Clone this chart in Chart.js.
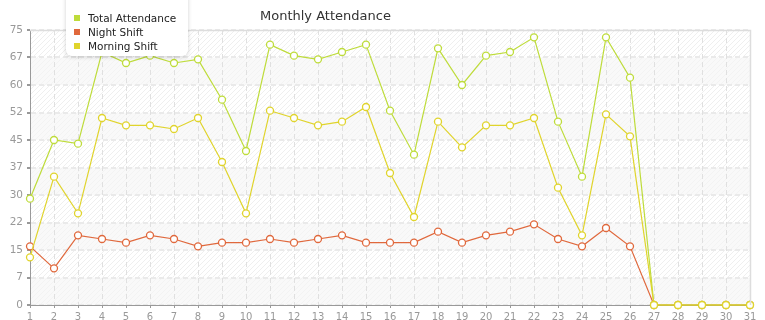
<!DOCTYPE html>
<html>
<head>
<meta charset="utf-8">
<script src="https://cdn.jsdelivr.net/npm/chart.js@4"></script>
<style>
  html, body { margin: 0; padding: 0; background: #fff; }
  .wrap { position: relative; width: 765px; height: 320px; }
  .title {
    position: absolute; left: 260px; top: 8px;
    font: 13px "DejaVu Sans", sans-serif; color: #333;
  }
  .legend {
    position: absolute; left: 66px; top: -4px; width: 122px; height: 60px;
    background: #fff; border-radius: 0 0 6px 6px;
    box-shadow: 0 1px 4px rgba(0,0,0,0.18);
    font: 10.5px "DejaVu Sans", sans-serif; color: #222;
  }
  .legend div { position: absolute; left: 8px; height: 14px; line-height: 14px; }
  .legend span { display: inline-block; width: 6px; height: 6px; margin-right: 8px; vertical-align: 1px; }
</style>
</head>
<body>
<div class="wrap">
  <canvas id="chart" width="765" height="320"></canvas>
  <div class="title">Monthly Attendance</div>
  <div class="legend" id="legend"></div>
</div>
<script>
// dados
var days = ['1','2','3','4','5','6','7','8','9','10','11','12','13','14','15','16',
            '17','18','19','20','21','22','23','24','25','26','27','28','29','30','31'];
var totalAttendance = [29, 45, 44, 69, 66, 68, 66, 67, 56, 42, 71, 68, 67, 69, 71, 53,
                       41, 70, 60, 68, 69, 73, 50, 35, 73, 62, 0, 0, 0, 0, 0];
var nightShift = [16, 10, 19, 18, 17, 19, 18, 16, 17, 17, 18, 17, 18, 19, 17, 17,
                  17, 20, 17, 19, 20, 22, 18, 16, 21, 16, 0, 0, 0, 0, 0];
var morningShift = [13, 35, 25, 51, 49, 49, 48, 51, 39, 25, 53, 51, 49, 50, 54, 36,
                    24, 50, 43, 49, 49, 51, 32, 19, 52, 46, 0, 0, 0, 0, 0];
var yTickValues = [0, 7.5, 15, 22.5, 30, 37.5, 45, 52.5, 60, 67.5, 75];
var yTickLabels = ['0', '7', '15', '22', '30', '37', '45', '52', '60', '67', '75'];

var seriesNames = ['Total Attendance', 'Night Shift', 'Morning Shift'];
var seriesColors = ['#bedc3a', '#e0683c', '#e0d42c'];

// legenda em HTML
var legendEl = document.getElementById('legend');
seriesNames.forEach(function (name, i) {
    var row = document.createElement('div');
    row.style.top = (15 + i * 14) + 'px';
    row.innerHTML = '<span style="background:' + seriesColors[i] + '"></span>' + name;
    legendEl.appendChild(row);
});

// fundo listrado da área do gráfico
function makePattern(ctx, bg, line) {
    var c = document.createElement('canvas');
    c.width = 5; c.height = 5;
    var p = c.getContext('2d');
    p.fillStyle = bg; p.fillRect(0, 0, 5, 5);
    p.strokeStyle = line; p.lineWidth = 1;
    p.beginPath();
    p.moveTo(0, 5); p.lineTo(5, 0);
    p.moveTo(-1, 1); p.lineTo(1, -1);
    p.moveTo(4, 6); p.lineTo(6, 4);
    p.stroke();
    return ctx.createPattern(c, 'repeat');
}

var bandsPlugin = {
    id: 'bands',
    beforeDraw: function (chart) {
        var ctx = chart.ctx, area = chart.chartArea, y = chart.scales.y;
        var hatch = makePattern(ctx, '#ffffff', '#efefef');
        var light = makePattern(ctx, '#f9f9f9', '#f3f3f3');
        ctx.save();
        for (var i = 0; i < yTickValues.length - 1; i++) {
            var top = y.getPixelForValue(yTickValues[i + 1]);
            var bot = y.getPixelForValue(yTickValues[i]);
            ctx.fillStyle = (i % 2 === 0) ? light : hatch;
            ctx.fillRect(area.left, top, area.right - area.left, bot - top);
        }
        ctx.restore();
    },
    afterDraw: function (chart) {
        var ctx = chart.ctx, area = chart.chartArea;
        ctx.save();
        ctx.strokeStyle = '#dddddd';
        ctx.lineWidth = 1.5;
        ctx.beginPath();
        ctx.moveTo(area.left, area.top + 0.5);
        ctx.lineTo(area.right + 0.5, area.top + 0.5);
        ctx.lineTo(area.right + 0.5, area.bottom);
        ctx.stroke();
        ctx.restore();
    }
};

function makeDataset(i, values, order) {
    return {
        label: seriesNames[i],
        data: values,
        borderColor: seriesColors[i],
        backgroundColor: '#ffffff',
        pointBackgroundColor: '#ffffff',
        pointBorderColor: seriesColors[i],
        pointBorderWidth: 1.3,
        pointRadius: 3.5,
        borderWidth: 1.2,
        tension: 0,
        fill: false,
        order: order,
        clip: false
    };
}

new Chart(document.getElementById('chart'), {
    type: 'line',
    data: {
        labels: days,
        datasets: [
            makeDataset(0, totalAttendance, 2),
            makeDataset(1, nightShift, 3),
            makeDataset(2, morningShift, 1)
        ]
    },
    options: {
        responsive: false,
        animation: false,
        layout: { padding: { top: 30, right: 15, left: 0, bottom: 0 } },
        plugins: {
            legend: { display: false },
            title: { display: false },
            tooltip: { enabled: false }
        },
        scales: {
            x: {
                afterFit: function (s) { s.height = 15; },
                grid: { color: '#e0e0e0', lineWidth: 1, tickColor: '#999999', tickLength: 3, drawTicks: true },
                border: { color: '#999999', width: 1, dash: [5, 3] },
                ticks: {
                    color: '#999999', padding: 3, maxRotation: 0, autoSkip: false,
                    font: { family: '"DejaVu Sans", sans-serif', size: 10 }
                }
            },
            y: {
                min: 0, max: 75,
                afterFit: function (s) { s.width = 30; },
                afterBuildTicks: function (s) {
                    s.ticks = yTickValues.map(function (v) { return { value: v }; });
                },
                grid: { color: '#eaeaea', lineWidth: 2, tickColor: '#999999', tickLength: 3 },
                border: { color: '#999999', width: 1, dash: [5, 3] },
                ticks: {
                    color: '#999999', padding: 4,
                    font: { family: '"DejaVu Sans", sans-serif', size: 10.5 },
                    callback: function (v, idx) { return yTickLabels[idx]; }
                }
            }
        }
    },
    plugins: [bandsPlugin]
});
</script>
</body>
</html>
